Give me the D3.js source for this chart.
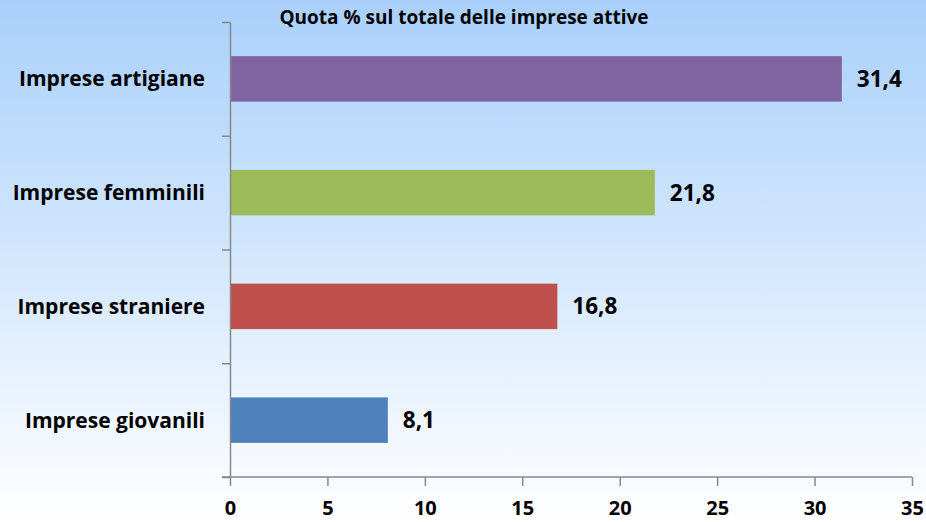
<!DOCTYPE html>
<html>
<head>
<meta charset="utf-8">
<script src="https://cdn.jsdelivr.net/npm/d3@7"></script>
<style>
  body { margin: 0; }
  svg { display: block; font-family: "Open Sans", sans-serif; font-weight: bold; }
</style>
</head>
<body>
<svg id="chart" width="926" height="522"></svg>
<script>
var W = 926, H = 522;
var categories = ['Imprese artigiane', 'Imprese femminili', 'Imprese straniere', 'Imprese giovanili'];
var values = [31.4, 21.8, 16.8, 8.1];
var colors = ['#8064A2', '#9BBB59', '#C0504D', '#4F81BD'];
var xTicks = [0, 5, 10, 15, 20, 25, 30, 35];
var title = 'Quota % sul totale delle imprese attive';

var svg = d3.select('#chart');

// background gradient
var grad = svg.append('defs').append('linearGradient')
  .attr('id', 'bg').attr('x1', 0).attr('y1', 0).attr('x2', 0).attr('y2', 1);
grad.append('stop').attr('offset', '0%').attr('stop-color', '#a9d0fb');
grad.append('stop').attr('offset', '100%').attr('stop-color', '#ffffff');
svg.append('rect').attr('width', W).attr('height', H).attr('fill', 'url(#bg)');

var m = {left: 230, right: 14, top: 22, bottom: 45};
var x = d3.scaleLinear().domain([0, 35]).range([m.left, W - m.right]);
var y = d3.scaleBand().domain(categories).range([m.top, H - m.bottom]).paddingInner(0.6).paddingOuter(0.3);
var yAxisScale = d3.scaleLinear().domain([0, 4]).range([H - m.bottom, m.top]);

// title
svg.append('text')
  .attr('x', 464).attr('y', 24)
  .attr('text-anchor', 'middle')
  .style('font-size', '19px')
  .text(title);

// bars
svg.selectAll('.bar')
  .data(values)
  .join('rect')
  .attr('class', 'bar')
  .attr('x', x(0))
  .attr('y', (d, i) => y(categories[i]))
  .attr('width', d => x(d) - x(0))
  .attr('height', y.bandwidth())
  .attr('fill', (d, i) => colors[i]);

// value labels
svg.selectAll('.val')
  .data(values)
  .join('text')
  .attr('class', 'val')
  .attr('x', d => x(d) + 15)
  .attr('y', (d, i) => y(categories[i]) + y.bandwidth() / 2)
  .attr('dy', '0.36em')
  .style('font-size', '22.5px')
  .text(d => d3.format('.1f')(d).replace('.', ','));

// axes
var xAxis = svg.append('g')
  .attr('transform', 'translate(0,' + (H - m.bottom) + ')')
  .call(d3.axisBottom(x).tickValues(xTicks).tickSize(9).tickSizeOuter(0).tickPadding(15));
xAxis.select('.domain').attr('d', 'M' + (m.left - 8) + ',0H' + (W - m.right));

var yAxis = svg.append('g')
  .attr('transform', 'translate(' + m.left + ',0)')
  .call(d3.axisLeft(yAxisScale).ticks(4).tickSize(8).tickSizeOuter(0).tickFormat(''));

svg.selectAll('.domain, .tick line').attr('stroke', '#888').attr('stroke-width', 1.5);
xAxis.selectAll('.tick line').attr('y1', 0);
xAxis.selectAll('.tick text')
  .style('font-size', '20px')
  .style('font-family', '"Open Sans", sans-serif')
  .style('font-weight', 'bold')
  .attr('fill', '#000');

// category labels
svg.selectAll('.cat')
  .data(categories)
  .join('text')
  .attr('class', 'cat')
  .attr('x', 205)
  .attr('y', d => y(d) + y.bandwidth() / 2)
  .attr('dy', '0.36em')
  .attr('text-anchor', 'end')
  .style('font-size', '21px')
  .text(d => d);
</script>
</body>
</html>
